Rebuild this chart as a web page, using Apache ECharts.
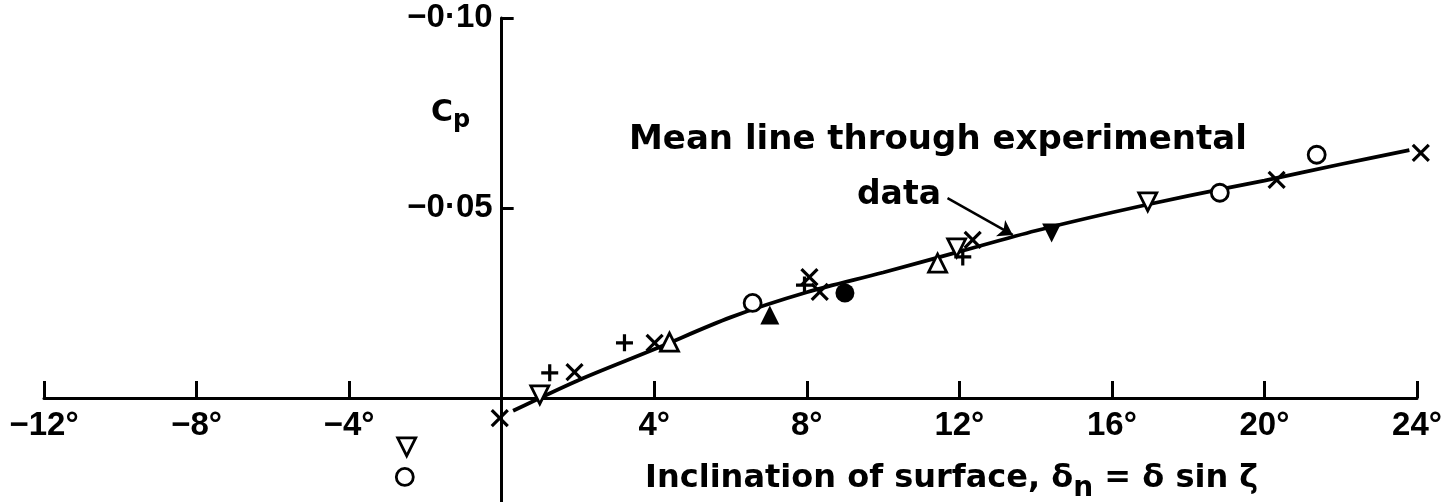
<!DOCTYPE html>
<html>
<head>
<meta charset="utf-8">
<script src="https://cdn.jsdelivr.net/npm/echarts@6/dist/echarts.min.js"></script>
<style>
  html, body { margin: 0; background: #fff; }
  #chart { width: 1456px; height: 502px; }
</style>
</head>
<body>
<div id="chart"></div>
<script>
// axis ticks
const xTicks = [-12, -8, -4, 4, 8, 12, 16, 20, 24]
const yTicks = [-0.1, -0.05]

// experimental points [inclination (deg), Cp], one array per symbol
const crossPts = [[-0.05, 0.0053], [1.91, -0.0068], [4.01, -0.0145], [8.07, -0.0318], [8.34, -0.0279], [12.35, -0.0416], [20.32, -0.0574], [24.1, -0.0645]]
const plusPts = [[1.26, -0.0066], [3.22, -0.0145], [7.94, -0.0297], [12.09, -0.0371]]
const openCirclePts = [[-2.54, 0.0208], [6.58, -0.025], [18.83, -0.054], [21.37, -0.064]]
const fullCirclePts = [[9.0, -0.0276]]
const openUpTriPts = [[4.4, -0.0147], [11.43, -0.0355]]
const fullUpTriPts = [[7.03, -0.0218]]
const openDownTriPts = [[-2.49, 0.0129], [1.0, -0.0008], [11.93, -0.0395], [16.94, -0.0516]]
const fullDownTriPts = [[14.42, -0.0434]]

// mean line through experimental data
const meanLine = [[0.3, 0.0034], [2, -0.0046], [4, -0.0128], [6, -0.0212], [8, -0.0278], [10, -0.0330], [12, -0.0385], [14, -0.0440], [16, -0.0488], [18, -0.0532], [20, -0.0572], [22, -0.0615], [23.8, -0.0652]]

// arrow of the annotation (from, to)
const arrowFrom = [11.69, -0.0526]
const arrowTo = [13.4, -0.0429]

const chart = echarts.init(document.getElementById('chart'))

const black = '#000'
const labelFont = 'Liberation Sans'
const textFont = 'DejaVu Sans'

// axes range; the axes cross at (0, 0) inside the grid
const xMin = -12, xMax = 24
const yMin = -0.1, yMax = 0.0274
const gridLeft = 44, gridRight = 39, gridTop = 18, gridBottom = 0
const gridW = 1456 - gridLeft - gridRight
const gridH = 502 - gridTop - gridBottom
// shift the axes from the grid edges to the zero lines
const xAxisOffset = -(yMax / (yMax - yMin)) * gridH
const yAxisOffset = -((0 - xMin) / (xMax - xMin)) * gridW

function scatter (data, symbol, size, filled, rotate) {
  return {
    type: 'scatter',
    data: data,
    symbol: symbol,
    symbolSize: size,
    symbolRotate: rotate || 0,
    z: 5,
    clip: false,
    itemStyle: {
      color: filled ? black : '#fff',
      borderColor: black,
      borderWidth: filled ? 0 : 2.8,
      opacity: 1
    }
  }
}

const crossPath = 'path://M0,0L10,10M10,0L0,10'
const plusPath = 'path://M5,0L5,10M0,5L10,5'

function strokeSym (data, path, size) {
  return {
    type: 'scatter',
    data: data,
    symbol: path,
    symbolSize: size,
    z: 5,
    clip: false,
    itemStyle: { color: 'none', borderColor: black, borderWidth: 3.2, opacity: 1 }
  }
}

const option = {
  backgroundColor: '#fff',
  animation: false,
  grid: { left: gridLeft, right: gridRight, top: gridTop, bottom: gridBottom, outerBoundsMode: 'none', containLabel: false },
  title: [
    {
      text: 'C{p|p}',
      left: 426, top: 88,
      textStyle: {
        fontFamily: textFont, fontWeight: 'bold', fontSize: 30, color: black,
        rich: { p: { fontFamily: textFont, fontWeight: 'bold', fontSize: 24, color: black, padding: [16, 0, 0, 0] } }
      }
    },
    {
      text: 'Mean line through experimental',
      left: 624, top: 118,
      textStyle: { fontFamily: textFont, fontWeight: 'bold', fontSize: 34, color: black }
    },
    {
      text: 'data',
      left: 852, top: 174,
      textStyle: { fontFamily: textFont, fontWeight: 'bold', fontSize: 33, color: black }
    },
    {
      text: 'Inclination of surface, δ{s|n} = δ sin ζ',
      left: 640, top: 450,
      textStyle: {
        fontFamily: textFont, fontWeight: 'bold', fontSize: 32, color: black,
        rich: { s: { fontFamily: textFont, fontWeight: 'bold', fontSize: 28, color: black, padding: [20, 0, 0, 0] } }
      }
    }
  ],
  xAxis: {
    type: 'value',
    min: xMin,
    max: xMax,
    interval: 4,
    position: 'bottom',
    offset: xAxisOffset,
    splitLine: { show: false },
    axisLine: { onZero: false, lineStyle: { color: black, width: 3 } },
    axisTick: { inside: true, length: 17, customValues: xTicks, lineStyle: { color: black, width: 3 } },
    axisLabel: {
      customValues: xTicks,
      margin: 12,
      color: black,
      fontFamily: labelFont,
      fontWeight: 'bold',
      fontSize: 33,
      formatter: v => (v < 0 ? '−' + (-v) : String(v)) + '°'
    }
  },
  yAxis: {
    type: 'value',
    inverse: true,
    min: yMin,
    max: yMax,
    position: 'left',
    offset: yAxisOffset,
    splitLine: { show: false },
    axisLine: { onZero: false, lineStyle: { color: black, width: 3 } },
    axisTick: { inside: true, length: 12, customValues: yTicks, lineStyle: { color: black, width: 3 } },
    axisLabel: {
      customValues: yTicks,
      margin: 9,
      color: black,
      fontFamily: labelFont,
      fontWeight: 'bold',
      fontSize: 33,
      formatter: v => '−' + (-v).toFixed(2).replace('.', '·')
    }
  },
  series: [
    {
      type: 'line',
      data: meanLine,
      smooth: 0.3,
      showSymbol: false,
      lineStyle: { color: black, width: 3.8 },
      z: 3,
      markLine: {
        silent: true,
        symbol: ['none', 'arrow'],
        symbolSize: 14,
        label: { show: false },
        lineStyle: { color: black, width: 2.5, type: 'solid' },
        data: [[{ coord: arrowFrom }, { coord: arrowTo }]]
      }
    },
    strokeSym(crossPts, crossPath, 16),
    strokeSym(plusPts, plusPath, 17),
    scatter(openCirclePts, 'circle', 17, false),
    scatter(fullCirclePts, 'circle', 19, true),
    scatter(openUpTriPts, 'triangle', 18, false),
    scatter(fullUpTriPts, 'triangle', 19, true),
    scatter(openDownTriPts, 'triangle', 18, false, 180),
    scatter(fullDownTriPts, 'triangle', 19, true, 180)
  ]
}

chart.setOption(option)
</script>
</body>
</html>
